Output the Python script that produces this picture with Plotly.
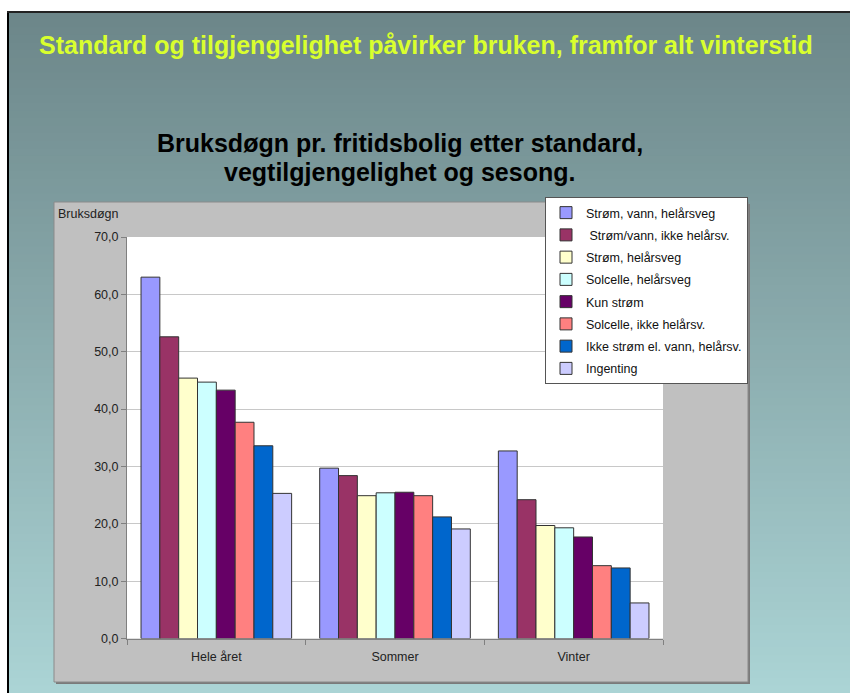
import plotly.graph_objects as go

W, H = 850, 693

categories = ["Hele året", "Sommer", "Vinter"]
series_names = [
    "Strøm, vann, helårsveg",
    " Strøm/vann, ikke helårsv.",
    "Strøm, helårsveg",
    "Solcelle, helårsveg",
    "Kun strøm",
    "Solcelle, ikke helårsv.",
    "Ikke strøm el. vann, helårsv.",
    "Ingenting",
]
values = [
    [63.0, 29.7, 32.7],
    [52.6, 28.4, 24.2],
    [45.4, 24.9, 19.7],
    [44.7, 25.4, 19.3],
    [43.3, 25.5, 17.7],
    [37.7, 24.9, 12.7],
    [33.6, 21.2, 12.3],
    [25.3, 19.1, 6.2],
]
colors = ["#9999FF", "#993366", "#FFFFCC", "#CCFFFF", "#660066", "#FF8080", "#0066CC", "#CCCCFF"]

FONT = "Liberation Sans, Arial, sans-serif"

def px(x):
    return x / W

def py(y):
    return 1 - y / H

fig = go.Figure()
for i, (name, vals, col) in enumerate(zip(series_names, values, colors)):
    fig.add_trace(go.Bar(
        x=categories, y=vals, name=name, legendgroup="g%d" % i,
        marker=dict(color=col, line=dict(color="#333333", width=1)),
    ))

shapes = []
# slide gradient background (overlapping strips, no seams)
top_c = (108, 134, 137)
bot_c = (171, 212, 213)
y0, y1 = 12, H
n = 90
for i in range(n):
    ya = y0 + (y1 - y0) * i / n
    t = (i + 0.5) / n
    c = tuple(int(round(top_c[k] + (bot_c[k] - top_c[k]) * t)) for k in range(3))
    shapes.append(dict(type="rect", xref="paper", yref="paper", layer="below",
                       x0=px(8), x1=1, y0=py(ya), y1=0,
                       fillcolor="rgb(%d,%d,%d)" % c, line=dict(width=0)))
# slide border
shapes.append(dict(type="line", xref="paper", yref="paper", layer="below",
                   x0=px(8), x1=px(8), y0=py(11), y1=0, line=dict(color="black", width=2)))
shapes.append(dict(type="line", xref="paper", yref="paper", layer="below",
                   x0=px(7), x1=1, y0=py(12), y1=py(12), line=dict(color="#222222", width=2)))
# chart area shadow + box
shapes.append(dict(type="rect", xref="paper", yref="paper", layer="below",
                   x0=px(56), x1=px(750), y0=py(204), y1=py(684),
                   fillcolor="#7a7a7a", line=dict(width=0)))
shapes.append(dict(type="rect", xref="paper", yref="paper", layer="below",
                   x0=px(54), x1=px(748), y0=py(202), y1=py(682),
                   fillcolor="#C0C0C0", line=dict(color="#8a8a8a", width=1)))
# plot area white
shapes.append(dict(type="rect", xref="paper", yref="paper", layer="below",
                   x0=px(127), x1=px(663), y0=py(237), y1=py(638.5),
                   fillcolor="white", line=dict(width=0)))

annotations = [
    dict(text="<b>Standard og tilgjengelighet påvirker bruken, framfor alt vinterstid</b>",
         xref="paper", yref="paper", x=px(426), y=py(45), xanchor="center", yanchor="middle",
         showarrow=False, font=dict(family=FONT, size=25, color="#D9FF2E")),
    dict(text="<b>Bruksdøgn pr. fritidsbolig etter standard,</b>",
         xref="paper", yref="paper", x=px(400), y=py(143), xanchor="center", yanchor="middle",
         showarrow=False, font=dict(family=FONT, size=25, color="black")),
    dict(text="<b>vegtilgjengelighet og sesong.</b>",
         xref="paper", yref="paper", x=px(399), y=py(172), xanchor="center", yanchor="middle",
         showarrow=False, font=dict(family=FONT, size=25, color="black")),
    dict(text="Bruksdøgn", xref="paper", yref="paper", x=px(56), y=py(214),
         xanchor="left", yanchor="middle", showarrow=False,
         font=dict(family=FONT, size=12.5, color="#222222")),
]

fig.update_layout(
    width=W, height=H,
    margin=dict(l=0, r=0, t=0, b=0, pad=0, autoexpand=False),
    paper_bgcolor="white",
    plot_bgcolor="rgba(0,0,0,0)",
    barmode="group", bargap=0.157, bargroupgap=0,
    separators=",.",
    font=dict(family=FONT, size=12.5, color="#222222"),
    shapes=shapes,
    annotations=annotations,
    xaxis=dict(domain=[px(127), px(663)], showgrid=False, tickson="boundaries",
               ticks="outside", ticklen=5, tickcolor="#808080",
               ticklabelstandoff=6,
               showline=True, linecolor="#808080", linewidth=1,
               tickfont=dict(size=12.5, color="#222222")),
    yaxis=dict(domain=[py(638.5), py(237)], range=[0, 70], dtick=10, tickformat=".1f",
               showgrid=True, gridcolor="#C8C8C8", gridwidth=1, zeroline=False,
               ticks="outside", ticklen=5, tickcolor="#808080",
               showline=True, linecolor="#808080", linewidth=1,
               tickfont=dict(size=12.5, color="#222222")),
    legend=dict(x=px(748), y=py(197), xanchor="right", yanchor="top",
                bgcolor="white", bordercolor="#555555", borderwidth=1,
                font=dict(size=12.5, color="#111111"),
                traceorder="grouped", tracegroupgap=3,
                itemwidth=30),
    showlegend=True,
)

fig.write_html("out.html", config={"displayModeBar": False},
               post_script="document.body.style.margin='0';document.body.style.overflow='hidden';")
